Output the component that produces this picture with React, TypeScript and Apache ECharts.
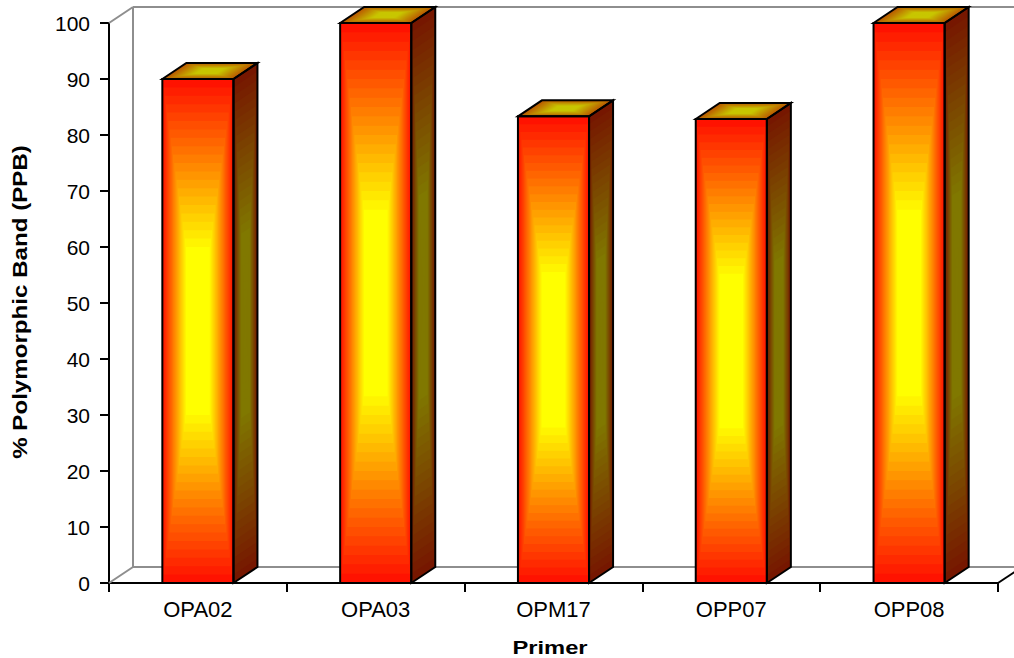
import React, { useEffect, useRef } from "react";
import * as echarts from "echarts";

// ---- data ----
const categories: string[] = ["OPA02", "OPA03", "OPM17", "OPP07", "OPP08"];
const ppbValues: number[] = [90, 100, 83.33, 82.86, 100];
const yMin = 0;
const yMax = 100;
const yInterval = 10;
const yAxisTitle = "% Polymorphic Band (PPB)";
const xAxisTitle = "Primer";

// ---- style constants ----
const FONT = "'Liberation Sans', Arial, Helvetica, sans-serif";
const DX = 24;
const DY = -16;
const BAR_FRAC = 0.4;
const STEPS = 30;
const GRAY = "#8e8e8e";

type RGB = [number, number, number];
const FRONT_EDGE: RGB = [255, 12, 0];
const FRONT_CENTER: RGB = [255, 255, 0];
const SIDE_EDGE: RGB = [118, 20, 0];
const SIDE_CENTER: RGB = [128, 120, 0];
const TOP_EDGE: RGB = [185, 85, 0];
const TOP_CENTER: RGB = [200, 198, 0];

function ramp(edge: RGB, center: RGB, t: number, knee: number): string {
  const u = Math.min(1, t / knee);
  const c = edge.map((e, i) => Math.round(e + (center[i] - e) * u));
  return `rgb(${c[0]},${c[1]},${c[2]})`;
}

function nestedPolys(pts: number[][], edge: RGB, center: RGB, knee: number) {
  const cx = pts.reduce((s, p) => s + p[0], 0) / pts.length;
  const cy = pts.reduce((s, p) => s + p[1], 0) / pts.length;
  const out: any[] = [];
  for (let k = 0; k < STEPS; k++) {
    const f = 1 - k / STEPS;
    out.push({
      type: "polygon",
      silent: true,
      shape: { points: pts.map((p) => [cx + (p[0] - cx) * f, cy + (p[1] - cy) * f]) },
      style: { fill: ramp(edge, center, (k + 0.5) / STEPS, knee), stroke: "none" },
    });
  }
  return out;
}

function renderBar(params: any, api: any) {
  const idx = api.value(0);
  const val = api.value(1);
  const top = api.coord([idx, val]);
  const base = api.coord([idx, 0]);
  const band = api.size([1, 0])[0];
  const w = band * BAR_FRAC;
  const xl = top[0] - w / 2;
  const xr = top[0] + w / 2;
  const yt = top[1];
  const yb = base[1];
  const children: any[] = [];

  const front = [
    [xl, yt],
    [xr, yt],
    [xr, yb],
    [xl, yb],
  ];
  const side = [
    [xr, yt],
    [xr + DX, yt + DY],
    [xr + DX, yb + DY],
    [xr, yb],
  ];
  const topFace = [
    [xl, yt],
    [xl + DX, yt + DY],
    [xr + DX, yt + DY],
    [xr, yt],
  ];

  children.push(...nestedPolys(front, FRONT_EDGE, FRONT_CENTER, 0.68));
  children.push(...nestedPolys(side, SIDE_EDGE, SIDE_CENTER, 0.65));
  children.push(...nestedPolys(topFace, TOP_EDGE, TOP_CENTER, 0.7));

  [front, side, topFace].forEach((pts) => {
    children.push({
      type: "polygon",
      silent: true,
      shape: { points: pts },
      style: { fill: "none", stroke: "#000", lineWidth: 2, lineJoin: "miter" },
    });
  });

  return { type: "group", children };
}

function renderFrame(params: any) {
  const cs = params.coordSys;
  const gx = cs.x;
  const gy = cs.y;
  const gw = cs.width;
  const gh = cs.height;
  const line = (x1: number, y1: number, x2: number, y2: number, color: string) => ({
    type: "line",
    silent: true,
    shape: { x1, y1, x2, y2 },
    style: { stroke: color, lineWidth: 2 },
  });
  return {
    type: "group",
    children: [
      line(gx + DX, gy + DY, gx + gw + DX + 10, gy + DY, GRAY),
      line(gx + DX, gy + DY, gx + DX, gy + gh + DY, GRAY),
      line(gx + DX, gy + gh + DY, gx + gw + DX + 10, gy + gh + DY, GRAY),
      line(gx, gy, gx + DX, gy + DY, GRAY),
      line(gx, gy + gh, gx + DX, gy + gh + DY, GRAY),
      line(gx + gw, gy + gh, gx + gw + DX, gy + gh + DY, "#000"),
    ],
  };
}

export default function App() {
  const ref = useRef<HTMLDivElement>(null);

  useEffect(() => {
    if (!ref.current) return;
    const chart = echarts.init(ref.current, undefined, { renderer: "svg" });
    const barData = categories.map((c, i) => [i, ppbValues[i]]);

    chart.setOption({
      animation: false,
      backgroundColor: "#ffffff",
      grid: { left: 109, top: 23, right: 16, bottom: 75, containLabel: false },
      xAxis: {
        type: "category",
        data: categories,
        boundaryGap: true,
        axisLine: { show: true, lineStyle: { color: "#000", width: 2 } },
        axisTick: { show: true, length: 9, lineStyle: { color: "#000", width: 2 } },
        axisLabel: { color: "#000", fontSize: 22, fontFamily: FONT, margin: 15 },
        splitLine: { show: false },
      },
      yAxis: {
        type: "value",
        min: yMin,
        max: yMax,
        interval: yInterval,
        axisLine: { show: true, lineStyle: { color: "#000", width: 2 } },
        axisTick: { show: true, length: 9, lineStyle: { color: "#000", width: 2 } },
        axisLabel: { color: "#000", fontSize: 21, fontFamily: FONT, margin: 19 },
        splitLine: { show: false },
      },
      graphic: [
        {
          type: "text",
          x: 20,
          y: 302,
          rotation: Math.PI / 2,
          scaleX: 1.15,
          style: {
            text: yAxisTitle,
            fontSize: 21,
            fontWeight: "bold",
            fontFamily: FONT,
            fill: "#000",
            align: "center",
            verticalAlign: "middle",
          },
        },
        {
          type: "text",
          x: 550,
          y: 648,
          scaleX: 1.32,
          style: {
            text: xAxisTitle,
            fontSize: 18,
            fontWeight: "bold",
            fontFamily: FONT,
            fill: "#000",
            align: "center",
            verticalAlign: "middle",
          },
        },
      ],
      series: [
        {
          type: "custom",
          name: "frame",
          z: 1,
          clip: false,
          silent: true,
          data: [[0, 0]],
          renderItem: renderFrame,
        },
        {
          type: "custom",
          name: "PPB",
          z: 3,
          clip: false,
          silent: true,
          data: barData,
          renderItem: renderBar,
        },
      ],
    });

    return () => chart.dispose();
  }, []);

  return (
    <div
      ref={ref}
      style={{ position: "fixed", left: 0, top: 0, width: 1014, height: 658, background: "#fff" }}
    />
  );
}
